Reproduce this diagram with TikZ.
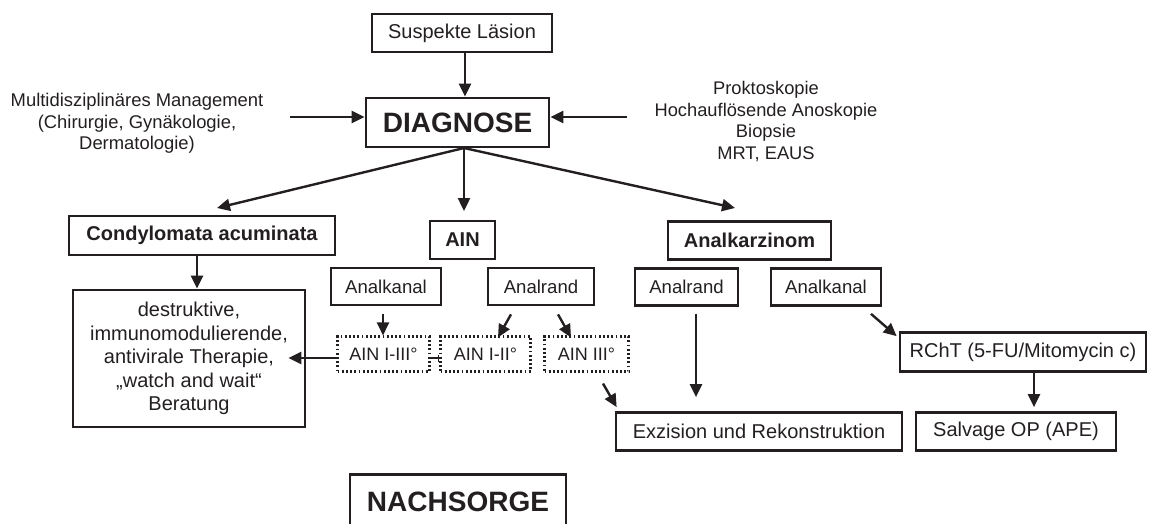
\documentclass[tikz,border=0pt]{standalone}
\usepackage{fontspec}
\setmainfont{Liberation Sans}
\usetikzlibrary{arrows.meta}
\definecolor{ink}{RGB}{35,31,32}
\newcommand\fsz[2]{\fontsize{#1}{#2}\selectfont}
\begin{document}
\begin{tikzpicture}[x=1pt,y=-1pt,
  box/.style={draw=ink, line width=2.7pt, inner sep=0pt, text=ink, align=center, font=\fsz{20}{23.5}},
  subbox/.style={box, font=\fsz{18.6}{21}},
  bbox/.style={box, font=\bfseries\fsz{20}{23}},
  bigbox/.style={box, font=\bfseries\fsz{28}{32}},
  dbox/.style={draw=ink, line width=2.1pt, dash pattern=on 1.8pt off 2.4pt, inner sep=0pt, text=ink, font=\fsz{18}{21}},
  free/.style={text=ink, align=center, inner sep=0pt, font=\fsz{18.4}{21.5}},
  arr/.style={draw=ink, line width=2.4pt, -{Triangle[length=13pt,width=12pt]}},
  link/.style={draw=ink, line width=2.4pt}]
\useasboundingbox (0,0) rectangle (1152,523);
\clip (0,0) rectangle (1152,523);

% nodes
\node[box, minimum width=180pt, minimum height=38pt] (sus) at (462,33) {Suspekte Läsion};
\node[bigbox, minimum width=183pt, minimum height=49pt] (diag) at (457.5,122.5) {DIAGNOSE};
\node[free] (mdm) at (137,123.5) {Multidisziplinäres Management\\(Chirurgie, Gynäkologie,\\Dermatologie)};
\node[free, font=\fsz{18.3}{21.5}] (prok) at (766,121.5) {Proktoskopie\\Hochauflösende Anoskopie\\Biopsie\\MRT, EAUS};

\node[bbox, minimum width=266pt, minimum height=39pt] (cond) at (202,235.5) {Condylomata acuminata};
\node[bbox, minimum width=65pt, minimum height=38pt] (ain) at (462.5,240) {AIN};
\node[bbox, minimum width=163pt, minimum height=38pt] (ak) at (749.5,240.5) {Analkarzinom};

\node[box, minimum width=232pt, minimum height=137pt] (ther) at (189,358.5) {destruktive,\\immunomodulierende,\\antivirale Therapie,\\„watch and wait“\\Beratung};

\node[subbox, minimum width=110pt, minimum height=37pt] (ainkan) at (386,286.5) {Analkanal};
\node[subbox, minimum width=106pt, minimum height=37pt] (ainrand) at (541,286.5) {Analrand};
\node[subbox, minimum width=103pt, minimum height=37pt] (akrand) at (686.5,287) {Analrand};
\node[subbox, minimum width=110pt, minimum height=37pt] (akkan) at (826,287) {Analkanal};

\node[dbox, minimum width=92pt, minimum height=35pt] (d1) at (383.5,354) {AIN I-III°};
\node[dbox, minimum width=90pt, minimum height=35pt] (d2) at (485.5,354) {AIN I-II°};
\node[dbox, minimum width=84pt, minimum height=35pt] (d3) at (586.5,354) {AIN III°};

\node[box, minimum width=246pt, minimum height=39pt] (rcht) at (1023,352) {RChT (5-FU/Mitomycin c)};
\node[box, minimum width=286pt, minimum height=38pt] (exz) at (759,431.5) {Exzision und Rekonstruktion};
\node[box, minimum width=200pt, minimum height=38pt] (salv) at (1016,431.5) {Salvage OP (APE)};

\node[bigbox, minimum width=216pt, minimum height=55pt] (nach) at (458,502) {NACHSORGE};

% free connector ends
\coordinate (l0) at (290,117);
\coordinate (r0) at (627,117);
\coordinate (apex) at (464,148);
\coordinate (ct) at (217,208);
\coordinate (at) at (464,211);
\coordinate (kt) at (735,208);

% connectors
\draw[arr] ([xshift=3pt]sus.south) -- ([xshift=7.5pt]diag.north);
\draw[arr] (l0) -- ([yshift=5.5pt]diag.west);
\draw[arr] (r0) -- ([yshift=5.5pt]diag.east);
\draw[arr] (apex) -- (ct);
\draw[arr] (apex) -- (at);
\draw[arr] (apex) -- (kt);

\draw[arr] ([xshift=-5pt]cond.south) -- ([xshift=8pt]ther.north);

\draw[arr] ([xshift=-3pt,yshift=-8pt]ainkan.south) -- ([xshift=-0.5pt]d1.north);
\draw[arr] ([xshift=-30pt,yshift=-8pt]ainrand.south) -- ([xshift=12.5pt,yshift=-2pt]d2.north);
\draw[arr] ([xshift=17pt,yshift=-8pt]ainrand.south) -- ([xshift=-15.5pt,yshift=-2pt]d3.north);

\draw[arr] ([yshift=-4pt]d1.west) -- ([xshift=-18pt,yshift=0.5pt]ther.east);
\draw[link, -{Bar[width=7pt,line width=1.8pt]}] ([yshift=-4pt]d1.east) -- ([yshift=-4pt]d2.west);

\draw[arr] ([xshift=16.5pt,yshift=-11pt]d3.south) -- ([xshift=2pt,yshift=4pt]exz.north west);
\draw[arr] ([xshift=9.5pt,yshift=-7pt]akrand.south) -- ([xshift=-63pt,yshift=14pt]exz.north);
\draw[arr] ([xshift=45pt,yshift=-7pt]akkan.south) -- ([xshift=-2pt,yshift=-5pt]rcht.north west);
\draw[arr] ([xshift=11pt]rcht.south) -- ([xshift=18pt,yshift=4pt]salv.north);
\end{tikzpicture}
\end{document}
